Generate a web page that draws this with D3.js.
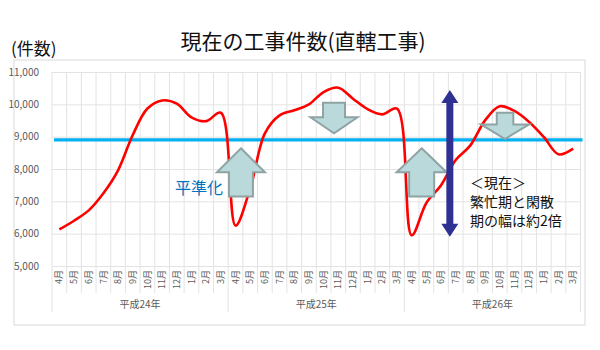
<!DOCTYPE html>
<html><head><meta charset="utf-8">
<script src="https://cdn.jsdelivr.net/npm/d3@7"></script>
<style>
body{margin:0;background:#fff;}
text{font-family:"Noto Sans CJK JP","Noto Sans",sans-serif;}
</style></head>
<body><svg id="c" width="600" height="350"></svg>
<script>
const years = ["平成24年","平成25年","平成26年"];
const monthNames = ["4月","5月","6月","7月","8月","9月","10月","11月","12月","1月","2月","3月"];
const categories = years.flatMap(y => monthNames.map(m => y + m));
const monthLabels = years.flatMap(() => monthNames);
const counts = [
  6130, 6400, 6720, 7250, 7960, 9050, 9870, 10120, 10020, 9600, 9480, 9740,
  6250, 7400, 9100, 9660, 9815, 10000, 10380, 10515, 10175, 9850, 9690, 9870,
  5950, 6950, 7500, 8280, 8730, 9505, 9940, 9795, 9455, 8990, 8455, 8630
];
const levelValue = 8900;
const yTicks = [5000,6000,7000,8000,9000,10000,11000];
// annotations in data terms: category index (fractional), values
const upArrows = [{c:12.37, tip:8640, wing:7900, base:7150, hw:24, sw:12},
                  {c:24.68, tip:8640, wing:7900, base:7150, hw:25, sw:12.5}];
const downArrows = [{c:18.71, top:10050, wing:9600, tip:9104, hw:23.5, sw:11},
                    {c:30.36, top:9741, wing:9380, tip:8928, hw:24, sw:8.3}];
const rangeArrow = {c:26.6, top:10440, bottom:5905};
const noteLines = ["＜現在＞","繁忙期と閑散","期の幅は約2倍"];
const levelLabel = "平準化";

const svg = d3.select("#c");
const L = 52, R = 580.5, T = 72, B = 266;
const x = d3.scaleBand().domain(d3.range(categories.length)).range([L, R]).padding(0);
const bw = x.bandwidth();
const xc = i => L + bw * (i + 0.5);
const y = d3.scaleLinear().domain([5000, 11000]).range([B, T]);

// frame
svg.append("rect").attr("x",14).attr("y",60).attr("width",571).attr("height",265)
  .attr("fill","none").attr("stroke","#d9d9d9").attr("stroke-width",1);

// titles
svg.append("text").attr("x",303).attr("y",49).attr("text-anchor","middle")
  .attr("font-size",21).attr("fill","#111").text("現在の工事件数(直轄工事)");
svg.append("text").attr("x",11).attr("y",55)
  .attr("font-size",17).attr("fill","#111").text("(件数)");

// horizontal grid
svg.append("g").attr("transform",`translate(${L},0)`)
  .call(d3.axisLeft(y).tickValues(yTicks).tickSize(-(R-L)).tickFormat(""))
  .call(g=>g.select(".domain").remove())
  .call(g=>g.selectAll("line").attr("stroke","#e3e3e3"));
// vertical grid at category boundaries
const bounds = d3.range(categories.length + 1);
svg.append("g").selectAll("line").data(bounds).join("line")
  .attr("x1",d=>L+bw*d).attr("x2",d=>L+bw*d)
  .attr("y1",T).attr("y2",d=> d%12===0 ? 312 : 293)
  .attr("stroke","#e3e3e3");

// y axis labels
svg.append("g").attr("transform",`translate(${L-10},0)`)
  .call(d3.axisLeft(y).tickValues(yTicks).tickSize(0).tickFormat(d3.format(",")))
  .call(g=>g.select(".domain").remove())
  .call(g=>g.selectAll("text").attr("font-size",10).attr("fill","#595959")
     .attr("font-family","'Liberation Sans',Arial,sans-serif"));

// x axis month labels
const xa = svg.append("g").attr("transform",`translate(0,${B})`)
  .call(d3.axisBottom(x).tickSize(0).tickFormat(i=>monthLabels[i]));
xa.select(".domain").remove();
xa.selectAll("text").attr("transform","rotate(-90)").attr("text-anchor","end")
  .attr("x",-4).attr("y",0).attr("dy","0.35em")
  .attr("font-size",9).attr("fill","#595959");
// year labels
svg.append("g").selectAll("text").data(years).join("text")
  .attr("x",(d,i)=>L+bw*(12*i+6)).attr("y",308).attr("text-anchor","middle")
  .attr("font-size",10).attr("fill","#595959").text(d=>d);

// level line
svg.append("line").attr("x1",L+2).attr("x2",R+2).attr("y1",y(levelValue)).attr("y2",y(levelValue))
  .attr("stroke","#00b0f0").attr("stroke-width",3.2);

// data line
svg.append("path").datum(counts)
  .attr("d", d3.line().x((d,i)=>xc(i)).y(d=>y(d)).curve(d3.curveCatmullRom.alpha(0.5)))
  .attr("fill","none").attr("stroke","#ff0000").attr("stroke-width",2.6);

// block arrows
const arrowFill = "#b9d9da", arrowStroke = "#8fa3a4";
upArrows.forEach(a=>{
  const cx = xc(a.c);
  const pts = [[cx,y(a.tip)],[cx+a.hw,y(a.wing)],[cx+a.sw,y(a.wing)],[cx+a.sw,y(a.base)],
               [cx-a.sw,y(a.base)],[cx-a.sw,y(a.wing)],[cx-a.hw,y(a.wing)]];
  svg.append("polygon").attr("points",pts.map(p=>p.join(",")).join(" "))
    .attr("fill",arrowFill).attr("stroke",arrowStroke).attr("stroke-width",2);
});
downArrows.forEach(a=>{
  const cx = xc(a.c);
  const pts = [[cx-a.sw,y(a.top)],[cx+a.sw,y(a.top)],[cx+a.sw,y(a.wing)],[cx+a.hw,y(a.wing)],
               [cx,y(a.tip)],[cx-a.hw,y(a.wing)],[cx-a.sw,y(a.wing)]];
  svg.append("polygon").attr("points",pts.map(p=>p.join(",")).join(" "))
    .attr("fill",arrowFill).attr("stroke",arrowStroke).attr("stroke-width",2);
});

// double arrow
{
  const cx = xc(rangeArrow.c), yt = y(rangeArrow.top), yb = y(rangeArrow.bottom);
  const hw = 8.5, sw = 3.5, hh = 13;
  const pts = [[cx,yt],[cx+hw,yt+hh],[cx+sw,yt+hh],[cx+sw,yb-hh],[cx+hw,yb-hh],[cx,yb],
               [cx-hw,yb-hh],[cx-sw,yb-hh],[cx-sw,yt+hh],[cx-hw,yt+hh]];
  svg.append("polygon").attr("points",pts.map(p=>p.join(",")).join(" "))
    .attr("fill","#2e3192");
}

// texts
svg.append("text").attr("x",175).attr("y",194).attr("font-size",16)
  .attr("fill","#0070c0").text(levelLabel);
svg.append("g").selectAll("text").data(noteLines).join("text")
  .attr("x",470).attr("y",(d,i)=>188+i*19).attr("font-size",14).attr("fill","#111").text(d=>d);
</script></body></html>
